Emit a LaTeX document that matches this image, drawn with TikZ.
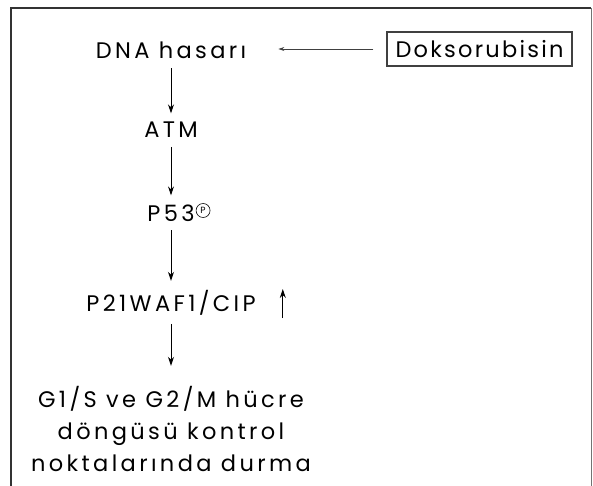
\documentclass[tikz,border=0pt]{standalone}
\usepackage{fontspec}
\setmainfont{Poppins}[LetterSpace=15]
\newfontfamily\plainfont{Poppins}
\newfontfamily\boxfont{Poppins}[LetterSpace=10]
\usetikzlibrary{arrows.meta}
\begin{document}
\begin{tikzpicture}[x=1pt,y=-1pt,
  lbl/.style={font=\fontsize{22.5}{32}\selectfont, inner sep=0pt, outer ysep=9pt, text=black},
  drugbox/.style={draw=black!75, line width=1.1pt, font=\boxfont\fontsize{22.5}{32}\selectfont,
    minimum width=185pt, minimum height=34pt, inner sep=0pt},
  phos/.style={circle, draw, line width=0.6pt, minimum size=14pt, inner sep=0pt,
    font=\plainfont\fontsize{9}{9}\selectfont},
  flow/.style={-{Stealth[length=9pt,width=6pt]}, line width=1pt},
  inhib/.style={-{Stealth[length=6pt,width=4pt]}, line width=0.8pt, black!75},
  frameline/.style={line width=2pt, black!80}]
\useasboundingbox (0,0) rectangle (593,486);

% page frame
\draw[frameline] (11,486) -- (11,8) -- (591,8);
\draw[line width=0.8pt, black!55] (591,8) -- (591,486);

% pathway
\node[lbl, anchor=base] (dna) at (171,59) {DNA hasarı};
\node[drugbox] (dok) at (479.5,49) {Doksorubisin};
\node[lbl, anchor=base] (atm) at (171,138) {ATM};
\node[lbl, anchor=base] (p53) at (171,221) {P53};
\node[phos, anchor=west] (phos) at ([shift={(1,-10.5)}]p53.base east) {P};
\node[lbl, anchor=base] (p21) at (171,311) {P21WAF1/CIP};
\node[lbl, anchor=base, align=center, outer ysep=20pt] (cyc) at (171,471)
  {G1/S ve G2/M hücre\\döngüsü kontrol\\noktalarında durma};

\draw[inhib, shorten <=13pt, shorten >=32pt] (dok.west) -- (dok.west -| dna.east);
\draw[flow] (dna) -- (atm);
\draw[flow] (atm) -- (p53);
\draw[flow] (p53) -- (p21);
\draw[flow] (p21) -- (p21 |- cyc.north);
\draw[flow] ([shift={(27,7)}]p21.base east) -- ++(0,-29);
\end{tikzpicture}
\end{document}
